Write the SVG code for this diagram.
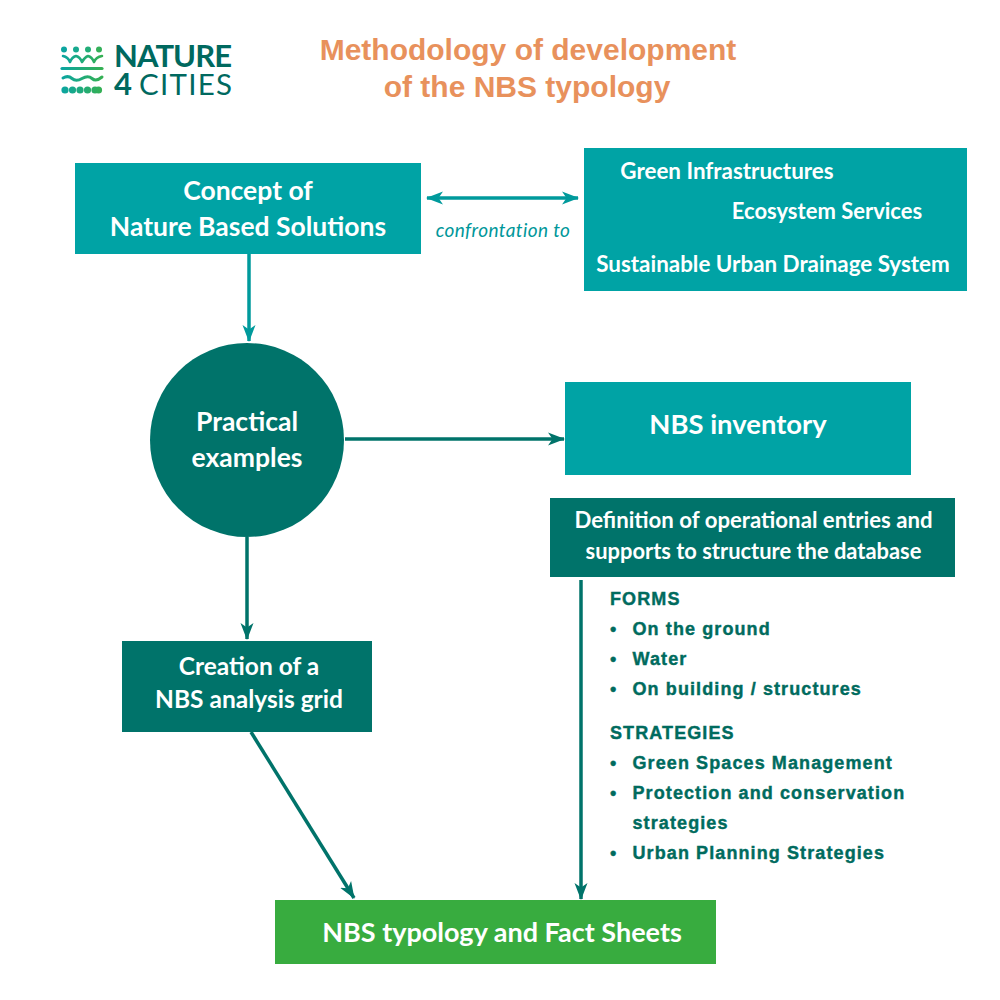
<svg xmlns="http://www.w3.org/2000/svg" width="1000" height="1000" viewBox="0 0 1000 1000">
<style>
.t{font-family:"Lato","Liberation Sans",sans-serif;font-weight:700;fill:#fff;text-anchor:middle}
.b{font-size:26.500px}
.g{font-size:22.400px}
.l{font-family:"Liberation Sans",Arial,sans-serif;font-weight:700;font-size:18px;fill:#006b5e;letter-spacing:1.1px;stroke:#006b5e;stroke-width:.4px}
.h{font-family:"Liberation Sans",Arial,sans-serif;font-weight:700;font-size:30px;fill:#e8915c;text-anchor:middle}
.teal{fill:#00a3a5}.dark{fill:#00736a}
.c{fill:none;stroke-width:3.5px}
.c1{stroke:#009a9c}.c2{stroke:#00736a}
.w{fill:none;stroke:url(#lg);stroke-width:2.600px;stroke-linecap:round;stroke-linejoin:round}
.n{font-family:"Lato",sans-serif;fill:#00695f}
</style>
<defs>
<linearGradient id="lg" gradientUnits="userSpaceOnUse" x1="62" y1="0" x2="102" y2="0"><stop offset="0" stop-color="#0ba5a0"/><stop offset="1" stop-color="#35b053"/></linearGradient>
<marker id="a1" markerUnits="userSpaceOnUse" markerWidth="18" markerHeight="14" refX="16" refY="6.500" orient="auto-start-reverse" viewBox="0 0 18 13"><path d="M0 0L17 6.500L0 13L4.500 6.500Z" fill="#009a9c"/></marker>
<marker id="a2" markerUnits="userSpaceOnUse" markerWidth="18" markerHeight="14" refX="16" refY="6.500" orient="auto" viewBox="0 0 18 13"><path d="M0 0L17 6.500L0 13L4.500 6.500Z" fill="#00736a"/></marker>
</defs>
<rect width="1000" height="1000" fill="#fff"/>
<g id="logo">
<circle cx="64" cy="49.500" r="3" fill="#0ba5a0"/><circle cx="76" cy="49.500" r="3" fill="#17a98f"/><circle cx="88" cy="49.500" r="3" fill="#22ad78"/><circle cx="99" cy="49.500" r="3" fill="#34b05a"/>
<path class="w" d="M63 56Q68 57 70 62Q72 57 76 56Q80 57 82 62Q85 57 88 56Q92 57 94 62Q96 57 102 56"/>
<path class="w" d="M62 68.500H102" style="stroke-width:3.200px"/>
<path class="w" d="M63 78Q68 75 72 78.500T82 78.500T92 78.500T102 77" style="stroke-width:3px"/>
<g fill="url(#lg)"><circle cx="65" cy="90" r="3.600"/><circle cx="72.500" cy="90" r="3.600"/><circle cx="80" cy="90" r="3.600"/><circle cx="87.500" cy="90" r="3.600"/><circle cx="95" cy="90" r="3.600"/><circle cx="98.500" cy="90" r="3.600"/></g>
<text class="n" x="114" y="67" font-weight="700" font-size="31" textLength="118">NATURE</text>
<text class="n" x="114" y="95" font-weight="700" font-size="31">4</text>
<text class="n" x="139" y="95" font-weight="400" font-size="29.500" textLength="93">CITIES</text>
</g>
<g id="title">
<text class="h" x="528" y="60">Methodology of development</text>
<text class="h" x="527" y="97">of the NBS typology</text>
</g>
<g id="connectors">
<path class="c c1" d="M249 254V341" marker-end="url(#a1)"/>
<path class="c c1" d="M427 198H578" marker-start="url(#a1)" marker-end="url(#a1)"/>
<path class="c c2" d="M345 439H564" marker-end="url(#a2)"/>
<path class="c c2" d="M247 537V639" marker-end="url(#a2)"/>
<path class="c c2" d="M251 732L354 898" marker-end="url(#a2)"/>
<path class="c c2" d="M581 580V899" marker-end="url(#a2)"/>
</g>
<g id="concept"><rect class="teal" x="75" y="163" width="346" height="91"/><text class="t b" x="248" y="200">Concept of</text><text class="t b" x="248" y="236">Nature Based Solutions</text></g>
<text id="confrontation" x="503" y="237" text-anchor="middle" font-family="Lato,sans-serif" font-style="italic" font-size="19" letter-spacing=".4" fill="#00979a">confrontation to</text>
<g id="related"><rect class="teal" x="584" y="148" width="383" height="143"/>
<text class="t g" x="727" y="179">Green Infrastructures</text><text class="t" font-size="22" x="827" y="219">Ecosystem Services</text><text class="t g" x="773" y="272">Sustainable Urban Drainage System</text></g>
<g id="practical"><circle class="dark" cx="247" cy="440" r="97"/><text class="t b" x="247" y="431">Practical</text><text class="t b" x="247" y="467">examples</text></g>
<g id="inventory"><rect class="teal" x="565" y="382" width="346" height="93"/><text class="t" font-size="27.400" x="738" y="434">NBS inventory</text></g>
<g id="definition"><rect class="dark" x="550" y="498" width="405" height="79"/><text class="t" font-size="22.200" x="753.500" y="528">Definition of operational entries and</text><text class="t" font-size="21.900" x="753.500" y="559">supports to structure the database</text></g>
<g id="grid"><rect class="dark" x="122" y="641" width="250" height="91"/><text class="t" font-size="24.500" x="249" y="675">Creation of a</text><text class="t" font-size="24.500" x="249" y="708">NBS analysis grid</text></g>
<g id="typology"><rect fill="#38ac3f" x="275" y="900" width="441" height="64"/><text class="t" font-size="27" x="502" y="942">NBS typology and Fact Sheets</text></g>
<g id="details">
<text class="l" x="610" y="605">FORMS</text>
<text class="l" x="610" y="635">•</text><text class="l" x="632.500" y="635">On the ground</text>
<text class="l" x="610" y="665">•</text><text class="l" x="632.500" y="665">Water</text>
<text class="l" x="610" y="695">•</text><text class="l" x="632.500" y="695">On building / structures</text>
<text class="l" x="610" y="739">STRATEGIES</text>
<text class="l" x="610" y="769">•</text><text class="l" x="632.500" y="769">Green Spaces Management</text>
<text class="l" x="610" y="799">•</text><text class="l" x="632.500" y="799">Protection and conservation</text>
<text class="l" x="632.500" y="829">strategies</text>
<text class="l" x="610" y="859">•</text><text class="l" x="632.500" y="859">Urban Planning Strategies</text>
</g>
</svg>
